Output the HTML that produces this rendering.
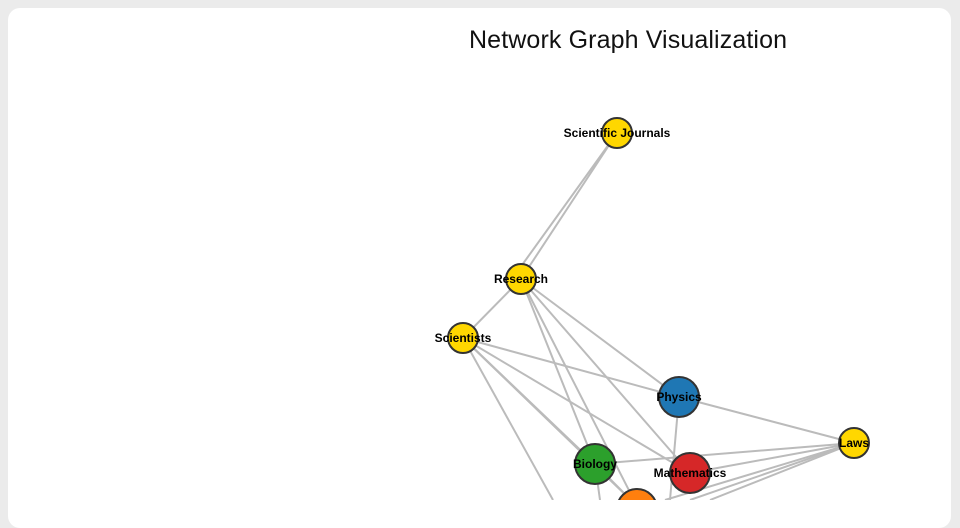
<!DOCTYPE html>
<html><head><style>
body{margin:0;width:960px;height:500px;background:#ebebeb;overflow:hidden;font-family:"Liberation Sans",sans-serif}
.card{position:absolute;left:8px;top:8px;width:943px;height:520px;background:#fff;border-radius:12px}
</style></head><body>
<div class="card"></div>
<svg width="960" height="500" style="position:absolute;left:0;top:0">
<text x="628" y="48" text-anchor="middle" font-size="25" fill="#111" font-family="Liberation Sans,sans-serif" textLength="318">Network Graph Visualization</text>
<g stroke="#bbb" stroke-width="2" fill="none">
<line x1="617" y1="133" x2="521" y2="279"/>
<line x1="612" y1="140" x2="517" y2="272"/>
<line x1="521" y1="279" x2="463" y2="338"/>
<line x1="521" y1="279" x2="679" y2="397"/>
<line x1="521" y1="279" x2="690" y2="473"/>
<line x1="521" y1="279" x2="595" y2="464"/>
<line x1="521" y1="279" x2="637" y2="506"/>
<line x1="463" y1="338" x2="679" y2="397"/>
<line x1="463" y1="338" x2="595" y2="464"/>
<line x1="463" y1="338" x2="600" y2="470"/>
<line x1="463" y1="338" x2="690" y2="473"/>
<line x1="463" y1="338" x2="637" y2="506"/>
<line x1="463" y1="338" x2="553" y2="500"/>
<line x1="679" y1="397" x2="854" y2="443"/>
<line x1="679" y1="397" x2="670" y2="500"/>
<line x1="854" y1="443" x2="595" y2="464"/>
<line x1="854" y1="443" x2="690" y2="473"/>
<line x1="854" y1="443" x2="665" y2="500"/>
<line x1="854" y1="443" x2="690" y2="500"/>
<line x1="854" y1="443" x2="710" y2="500"/>
<line x1="595" y1="464" x2="637" y2="506"/>
<line x1="595" y1="464" x2="600" y2="500"/>
</g>
<g stroke="#333" stroke-width="2">
<circle cx="617" cy="133" r="15" fill="#ffd700"/>
<circle cx="521" cy="279" r="15" fill="#ffd700"/>
<circle cx="463" cy="338" r="15" fill="#ffd700"/>
<circle cx="679" cy="397" r="20" fill="#1f77b4"/>
<circle cx="854" cy="443" r="15" fill="#ffd700"/>
<circle cx="595" cy="464" r="20" fill="#2ca02c"/>
<circle cx="690" cy="473" r="20" fill="#d62728"/>
<circle cx="637" cy="509" r="20" fill="#ff7f0e"/>
</g>
<g font-size="12" font-weight="bold" fill="#000" text-anchor="middle" font-family="Liberation Sans,sans-serif">
<text x="617" y="137">Scientific Journals</text>
<text x="521" y="283">Research</text>
<text x="463" y="342">Scientists</text>
<text x="679" y="401">Physics</text>
<text x="854" y="447">Laws</text>
<text x="595" y="468">Biology</text>
<text x="690" y="477">Mathematics</text>
</g>
</svg>
</body></html>
